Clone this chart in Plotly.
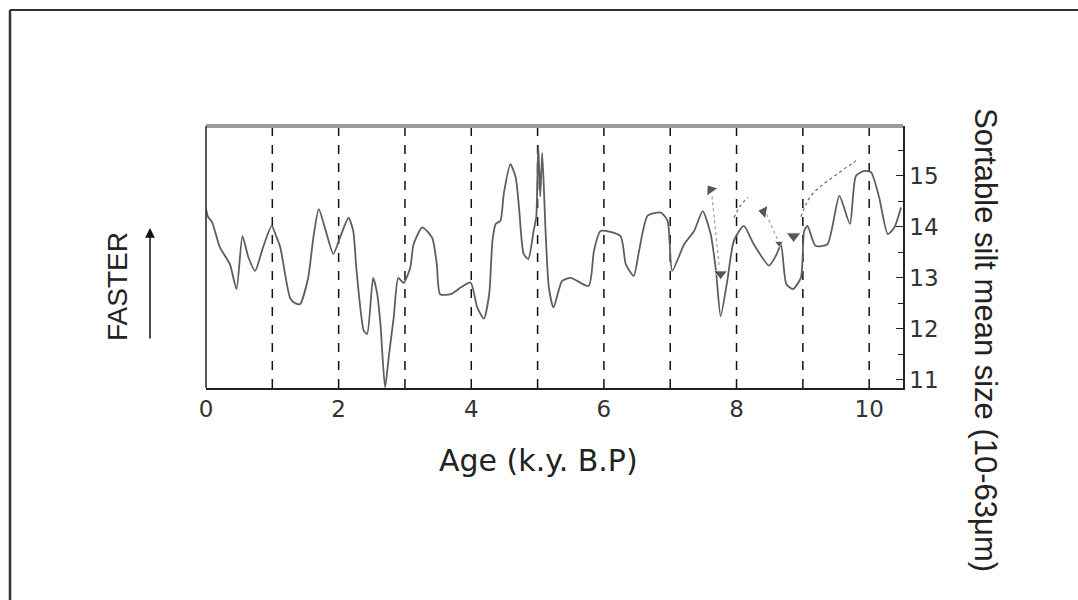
import plotly.graph_objects as go

# ---- data ----
age = [0.0, 0.03, 0.09, 0.21, 0.36, 0.46, 0.55, 0.64, 0.74, 0.86, 0.99, 1.05, 1.12, 1.27, 1.35, 1.42,
       1.54, 1.62, 1.70, 1.80, 1.92, 2.02, 2.15, 2.22, 2.27, 2.38, 2.43, 2.52, 2.58, 2.63, 2.70, 2.76,
       2.83, 2.90, 2.98, 3.08, 3.13, 3.26, 3.41, 3.48, 3.53, 3.69, 3.84, 3.99, 4.09, 4.19, 4.27, 4.32,
       4.37, 4.44, 4.49, 4.59, 4.67, 4.72, 4.79, 4.86, 4.94, 4.98, 5.01, 5.04, 5.07, 5.12, 5.17, 5.24,
       5.37, 5.50, 5.77, 5.85, 5.95, 6.25, 6.33, 6.45, 6.53, 6.66, 6.86, 6.96, 7.03, 7.21, 7.36, 7.49,
       7.61, 7.69, 7.76, 7.86, 7.96, 8.11, 8.26, 8.49, 8.60, 8.67, 8.75, 8.85, 8.97, 9.02, 9.07, 9.19,
       9.37, 9.55, 9.71, 9.80, 9.93, 10.03, 10.15, 10.28, 10.38, 10.48]
silt = [14.35, 14.2, 14.1, 13.6, 13.27, 12.78, 13.82, 13.4, 13.14, 13.6, 14.02, 13.85, 13.6, 12.6, 12.5, 12.49,
        13.0, 13.8, 14.35, 13.95, 13.47, 13.79, 14.18, 13.92, 13.14, 11.96, 11.9, 13.0, 12.7, 12.1, 10.85, 11.5,
        12.22, 13.0, 12.9, 13.2, 13.66, 13.99, 13.79, 13.27, 12.68, 12.68, 12.81, 12.91, 12.42, 12.2, 12.68, 13.73,
        14.06, 14.12, 14.65, 15.23, 14.97, 14.38, 13.47, 13.37, 13.92, 14.2, 15.6, 14.6, 15.45, 13.92, 12.81, 12.42,
        12.94, 13.0, 12.84, 13.53, 13.92, 13.82, 13.27, 13.04, 13.53, 14.22, 14.28, 14.12, 13.14, 13.66, 13.92, 14.31,
        13.86, 13.14, 12.25, 12.94, 13.73, 14.02, 13.66, 13.24, 13.45, 13.66, 12.88, 12.78, 13.0, 13.92, 14.02, 13.63,
        13.66, 14.61, 14.06, 15.0, 15.1, 15.07, 14.58, 13.86, 13.99, 14.38]

trend_age = [7.96, 8.05, 8.17, None, 8.97, 9.05, 9.12, 9.25, 9.37, 9.50, 9.62, 9.75, 9.83]
trend_silt = [14.18, 14.40, 14.58, None, 14.20, 14.45, 14.61, 14.78, 14.90, 15.02, 15.14, 15.25, 15.33]

link_age = [7.63, 7.74, None, 8.45, 8.62]
link_silt = [14.60, 13.20, None, 14.25, 13.75]

mark_age = [7.61, 7.76, 8.41, 8.64, 8.86]
mark_silt = [14.73, 13.08, 14.30, 13.68, 13.82]
mark_symbol = ["triangle-up", "triangle-down", "triangle-left", "triangle-down", "triangle-down"]
mark_angle = [-35, 0, 10, 0, 0]
mark_size = [12, 12, 12, 8, 13]

grid_ages = [1, 2, 3, 4, 5, 6, 7, 8, 9, 10]
x_tick_vals = [0, 2, 4, 6, 8, 10]
y_major = [11, 12, 13, 14, 15]
y_minor = [11.5, 12.5, 13.5, 14.5, 15.5]

FONT = "DejaVu Sans"
FONT2 = "Liberation Sans"

fig = go.Figure()

fig.add_trace(go.Scatter(x=age, y=silt, mode="lines",
                         line=dict(color="#5e5e5e", width=1.8, shape="spline", smoothing=0.6),
                         showlegend=False))
fig.add_trace(go.Scatter(x=trend_age, y=trend_silt, mode="lines",
                         line=dict(color="#6a6a6a", width=1.2, dash="dot", shape="spline"), showlegend=False))
fig.add_trace(go.Scatter(x=link_age, y=link_silt, mode="lines",
                         line=dict(color="#9a9a9a", width=1.2, dash="dot"), showlegend=False))
fig.add_trace(go.Scatter(x=mark_age, y=mark_silt, mode="markers",
                         marker=dict(symbol=mark_symbol, angle=mark_angle, size=mark_size,
                                     color="#111111"), showlegend=False))

shapes = []
for g in grid_ages:
    shapes.append(dict(type="line", xref="x", yref="paper", x0=g, x1=g, y0=0, y1=1,
                       line=dict(color="#111111", width=1.5, dash="dash"), layer="below"))
# top grey bar of the frame
shapes.append(dict(type="line", xref="paper", yref="paper", x0=0, x1=1, y0=1, y1=1,
                   line=dict(color="#9c9c9c", width=4)))
# left axis line of the frame
shapes.append(dict(type="line", xref="paper", yref="paper", x0=0, x1=0, y0=0, y1=1,
                   line=dict(color="#222222", width=1.5)))
# outer page border (top and left)
shapes.append(dict(type="line", xref="paper", yref="paper", x0=-0.2812, x1=1.6, y0=1.4427, y1=1.4427,
                   line=dict(color="#333333", width=2)))
shapes.append(dict(type="line", xref="paper", yref="paper", x0=-0.2812, x1=-0.2812, y0=1.4427, y1=-0.9,
                   line=dict(color="#333333", width=2.5)))

annotations = [
    dict(text="Age (k.y. B.P)", xref="paper", yref="paper", x=(538 - 206) / 697, y=(388 - 460) / 262,
         showarrow=False, font=dict(family=FONT, size=30, color="#222222"), xanchor="center", yanchor="middle"),
    dict(text="FASTER", xref="paper", yref="paper", x=(117 - 206) / 697, y=(388 - 287) / 262,
         showarrow=False, textangle=-90, font=dict(family=FONT2, size=28, color="#222222"),
         xanchor="center", yanchor="middle"),
    dict(text="", xref="paper", yref="paper", x=(150 - 206) / 697, y=(388 - 228) / 262,
         ax=0, ay=112, axref="pixel", ayref="pixel",
         showarrow=True, arrowhead=2, arrowsize=1.3, arrowwidth=1.5, arrowcolor="#111111"),
    dict(text="Sortable silt mean size (10-63\u03bcm)", xref="paper", yref="paper",
         x=(986 - 206) / 697, y=(388 - 340) / 262, showarrow=False, textangle=90,
         font=dict(family=FONT2, size=31, color="#222222"), xanchor="center", yanchor="middle"),
]

fig.update_layout(
    width=1078, height=600,
    margin=dict(l=206, r=175, t=126, b=212),
    paper_bgcolor="white", plot_bgcolor="white",
    shapes=shapes, annotations=annotations,
    xaxis=dict(range=[0, 10.51], tickvals=x_tick_vals, ticks="", showgrid=False, zeroline=False,
               showline=True, linecolor="#222222", linewidth=1.5,
               tickfont=dict(family=FONT, size=23, color="#333333")),
    yaxis=dict(range=[10.84, 15.98], side="right", tickvals=y_major, ticks="inside", ticklen=7,
               tickcolor="#222222", tickwidth=1.2,
               minor=dict(tickvals=y_minor, ticks="inside", ticklen=5, tickcolor="#222222"),
               showgrid=False, zeroline=False, showline=True, linecolor="#222222", linewidth=1.5,
               tickfont=dict(family=FONT, size=23, color="#333333")),
)

fig.write_html("out.html")
